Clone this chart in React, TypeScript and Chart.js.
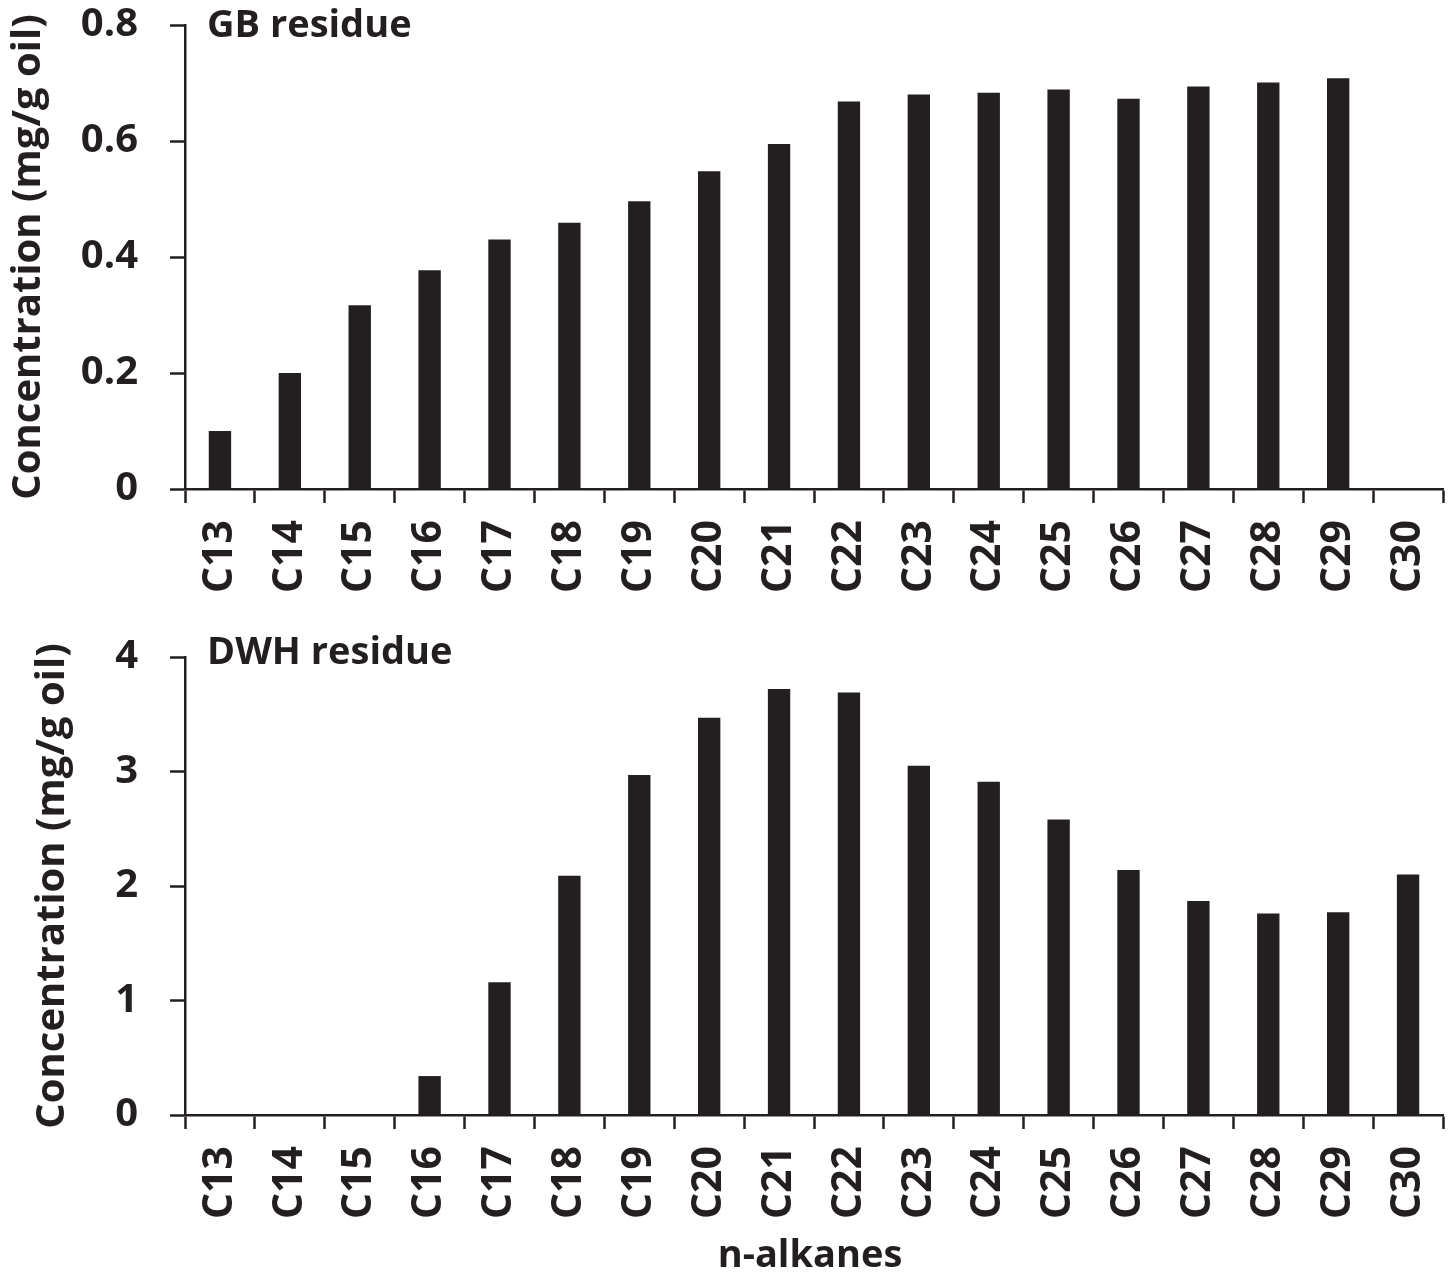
import React, { useEffect, useRef } from 'react';
import { Chart, registerables } from 'chart.js';

Chart.register(...registerables);

const categories = ['C13', 'C14', 'C15', 'C16', 'C17', 'C18', 'C19', 'C20', 'C21', 'C22', 'C23', 'C24', 'C25', 'C26', 'C27', 'C28', 'C29', 'C30'];
const gbValues = [0.1, 0.2, 0.317, 0.377, 0.43, 0.459, 0.496, 0.548, 0.595, 0.668, 0.68, 0.683, 0.689, 0.673, 0.694, 0.701, 0.708, 0];
const dwhValues = [0, 0, 0, 0.34, 1.16, 2.09, 2.97, 3.47, 3.72, 3.69, 3.05, 2.91, 2.58, 2.14, 1.87, 1.76, 1.77, 2.1];
const gbTicks = [0, 0.2, 0.4, 0.6, 0.8];
const dwhTicks = [0, 1, 2, 3, 4];
const gbLabel = 'GB residue';
const dwhLabel = 'DWH residue';
const yTitle = 'Concentration (mg/g oil)';
const xTitle = 'n-alkanes';

const INK = '#231f20';
const FONT = '"Open Sans", Lato, sans-serif';

type PanelProps = {
  values: number[];
  ticks: number[];
  label: string;
  height: number;
  padLeft: number;
  padTop: number;
  xHeight: number;
  labelBaseline: number;
  showXTitle: boolean;
};

function Panel({ values, ticks, label, height, padLeft, padTop, xHeight, labelBaseline, showXTitle }: PanelProps) {
  const ref = useRef<HTMLCanvasElement | null>(null);
  useEffect(() => {
    if (!ref.current) return;
    const panelText = {
      id: 'panelText',
      afterDraw(chart: any) {
        const { ctx, chartArea } = chart;
        ctx.save();
        ctx.font = `bold 38px ${FONT}`;
        ctx.fillStyle = INK;
        ctx.textBaseline = 'alphabetic';
        ctx.textAlign = 'left';
        ctx.fillText(label, chartArea.left + 22, labelBaseline);
        if (showXTitle) {
          ctx.textAlign = 'center';
          ctx.fillText(xTitle, 810, chart.height - 7);
        }
        ctx.restore();
      },
    };
    const chart = new Chart(ref.current, {
      type: 'bar',
      data: {
        labels: categories,
        datasets: [
          {
            data: values,
            backgroundColor: INK,
            borderWidth: 0,
            barPercentage: 0.32,
            categoryPercentage: 1,
          },
        ],
      },
      options: {
        responsive: false,
        animation: false,
        events: [],
        layout: { padding: { left: padLeft, right: 10, top: padTop, bottom: 0 } },
        plugins: { legend: { display: false }, tooltip: { enabled: false }, title: { display: false } },
        scales: {
          x: {
            grid: {
              display: true,
              drawOnChartArea: false,
              drawTicks: true,
              tickLength: 14,
              tickWidth: 2.5,
              tickColor: INK,
              offset: true,
            },
            border: { display: true, color: INK, width: 2.5 },
            ticks: {
              color: INK,
              font: { family: FONT, size: 41, weight: 'bold' },
              minRotation: 90,
              maxRotation: 90,
              padding: 17,
              autoSkip: false,
            },
            afterFit(scale: any) {
              scale.height = xHeight;
              scale.paddingLeft = 0;
              scale.paddingRight = 0;
            },
          },
          y: {
            min: ticks[0],
            max: ticks[ticks.length - 1],
            afterBuildTicks(scale: any) {
              scale.ticks = ticks.map((v) => ({ value: v }));
            },
            grid: {
              display: true,
              drawOnChartArea: false,
              drawTicks: true,
              tickLength: 15,
              tickWidth: 2.5,
              tickColor: INK,
            },
            border: { display: true, color: INK, width: 2.5 },
            ticks: {
              color: INK,
              font: { family: FONT, size: 40, weight: 'bold' },
              padding: 32,
              callback: (v: any) => String(v),
            },
            title: {
              display: true,
              text: yTitle,
              color: INK,
              font: { family: FONT, size: 40, weight: 'bold' },
              padding: 0,
            },
            afterFit(scale: any) {
              scale.width = 185 - padLeft;
              scale.paddingTop = 0;
              scale.paddingBottom = 0;
            },
          },
        },
      },
      plugins: [panelText],
    });
    return () => chart.destroy();
  }, [values, ticks, label, height, padLeft, padTop, xHeight, labelBaseline, showXTitle]);
  return <canvas ref={ref} width={1453} height={height} style={{ display: 'block' }} />;
}

export default function App() {
  return (
    <div style={{ position: 'absolute', left: 0, top: 0, width: 1453, height: 1274, background: '#fff' }}>
      <Panel values={gbValues} ticks={gbTicks} label={gbLabel} height={620} padLeft={5} padTop={25} xHeight={131} labelBaseline={37} showXTitle={false} />
      <Panel values={dwhValues} ticks={dwhTicks} label={dwhLabel} height={654} padLeft={29} padTop={37} xHeight={159} labelBaseline={44} showXTitle={true} />
    </div>
  );
}
